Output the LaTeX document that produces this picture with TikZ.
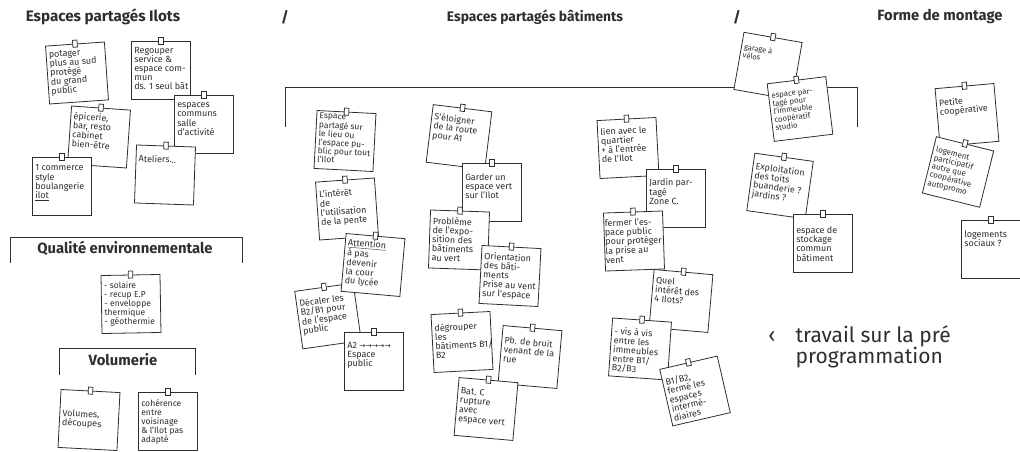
\documentclass[tikz,border=0pt]{standalone}
\usepackage{fontspec}
\setmainfont{Fira Sans}
\newfontfamily\symfont{DejaVu Sans}
\definecolor{ink}{HTML}{2E2E2E}
\tikzset{
  sticky/.style={draw=ink, fill=white, line width=0.8pt, minimum width=59pt, minimum height=58pt, inner sep=0pt},
  stickytext/.style={inner xsep=3pt, inner ysep=6pt, align=left, font=\fontsize{9}{9.2}\selectfont, text=ink, anchor=north west},
  tack/.style={draw=ink, fill=white, line width=0.75pt, minimum width=4.5pt, minimum height=7pt, inner sep=0pt},
  heading/.style={font=\fontsize{14.8}{16}\selectfont\bfseries, text=ink},
  section/.style={font=\fontsize{14.8}{16}\selectfont\bfseries, text=ink},
  bracket/.style={draw=ink, line width=0.8pt},
}
\newcommand\stickynote[6]{%
  \node[sticky, rotate=#4] (#1) at (#2,#3) {};
  \node[stickytext, rotate=#4, #5] (#1t) at (#1.north west) {#6};
  \node[tack, rotate=#4] (#1p) at (#1.north) {};
}
\begin{document}
\begin{tikzpicture}[x=1pt,y=-1pt]
\useasboundingbox (0,0) rectangle (1020,452);
% headings
\node[heading, font=\fontsize{15.2}{17}\selectfont\bfseries] (t1) at (103,17) {Espaces partagés Ilots};
\node[heading] (s1) at (285,17) {/};
\node[heading, font=\fontsize{13.8}{16}\selectfont\bfseries] (t2) at (535,17) {Espaces partagés bâtiments};
\node[heading] (s2) at (737,17) {/};
\node[heading] (t3) at (940,17) {Forme de montage};
\node[section] (t4) at (125,248) {Qualité environnementale};
\node[section] (t5) at (123,360) {Volumerie};
% brackets
\draw[bracket] (285,127) |- (857,87) -- (857,127);
\draw[bracket] (10,263) |- (242,237) -- (242,263);
\draw[bracket] (59,375) |- (195,348) -- (195,375);
% Espaces partages ilots
\stickynote{n1}{77}{73}{4}{}{potager\\plus au sud\\protégé\\du grand\\public}
\node[sticky] (n2) at (161,70) {};
\begin{scope}
\clip (n2.north west) rectangle (n2.south east);
\node[stickytext] (n2t) at (n2.north west) {Regouper\\service \&\\espace com-\\mun\\ds. 1 seul bât};
\end{scope}
\node[tack] (n2p) at (n2.north) {};
\stickynote{n3}{99}{137}{-4}{}{épicerie,\\bar, resto\\cabinet\\bien-être}
\stickynote{n4}{204}{124}{0}{inner ysep=8pt}{espaces\\communs\\salle\\d'activité}
\stickynote{n5}{165}{175}{-2}{inner ysep=10pt}{Ateliers...}
\stickynote{n6}{62}{186}{0}{inner ysep=8pt}{1 commerce\\style\\boulangerie\\\underline{ilot}}
% Qualite
\stickynote{n7}{131}{304}{1}{inner ysep=7pt, font=\fontsize{8.6}{9}\selectfont}{- solaire\\- recup E.P\\- enveloppe\\thermique\\- géothermie}
% Volumerie
\stickynote{n8}{89}{420}{-3}{inner ysep=20pt}{Volumes,\\découpes}
\stickynote{n9}{168}{421}{0}{inner ysep=8pt, font=\fontsize{8.6}{9}\selectfont}{cohérence\\entre\\voisinage\\\& l'Ilot pas\\adapté}
% batiments col 1
\stickynote{n10}{345}{141}{-3}{inner ysep=2pt, font=\fontsize{8.5}{8.6}\selectfont}{Espace\\partagé sur\\le lieu ou\\l'espace pu-\\blic pour tout\\l'Ilot}
\stickynote{n11}{347}{209}{4}{inner ysep=9pt}{L'intérêt\\de\\l'utilisation\\de la pente}
\stickynote{n13}{328}{316}{8}{inner ysep=9pt}{Décaler les\\B2/B1 pour\\de l'espace\\public}
\stickynote{n12}{373}{265}{-5}{inner ysep=5pt}{\underline{Attention}\\à pas\\devenir\\la cour\\du lycée}
\stickynote{n14}{374}{361}{0}{inner ysep=10pt}{A2 {\symfont\fontsize{7.5}{8}\selectfont →→→→→}\\Espace\\public}
% col 2
\stickynote{n15}{459}{137}{-7}{inner ysep=8pt}{S'éloigner\\de la route\\pour A1}
\stickynote{n16}{492}{192}{0}{inner ysep=11pt}{Garder un\\espace vert\\sur l'Ilot}
\stickynote{n17}{459}{240}{-2}{inner ysep=7pt}{Problème\\de l'expo-\\sition des\\bâtiments\\au vert}
\stickynote{n18}{510}{276}{-3}{inner ysep=7pt}{Orientation\\des bâti-\\ments\\Prise au vent\\sur l'espace}
\stickynote{n19}{462}{342}{3}{inner ysep=10pt}{dégrouper\\les\\bâtiments B1/\\B2}
\stickynote{n20}{530}{357}{-5}{inner ysep=11pt}{Pb. de bruit\\venant de la\\rue}
\stickynote{n21}{486}{409}{-5}{inner ysep=10pt}{Bat. C\\rupture\\avec\\espace vert}
% col 3
\stickynote{n22}{628}{148}{3}{inner ysep=8pt}{lien avec le\\quartier\\+ à l'entrée\\de l'Ilot}
\stickynote{n23}{676}{198}{0}{inner ysep=10pt}{Jardin par-\\tagé\\Zone C.}
\stickynote{n24}{634}{241}{2}{inner ysep=7pt, inner xsep=1pt}{fermer l'es-\\pace public\\pour protéger\\la prise au\\vent}
\stickynote{n25}{681}{301}{-5}{inner ysep=7pt}{Quel\\intérêt des\\4 Ilots?}
\stickynote{n26}{640}{349}{-4}{inner ysep=9pt}{- vis à vis\\entre les\\immeubles\\entre B1/\\B2/B3}
\stickynote{n27}{695}{391}{13}{inner ysep=10pt}{B1/B2,\\fermé les\\espaces\\intermé-\\diaires}
% col 4
\stickynote{n28}{768}{66}{-10}{inner ysep=11pt, font=\fontsize{7.5}{8.2}\selectfont}{garage à\\vélos}
\stickynote{n29}{800}{109}{7}{inner ysep=11pt, font=\fontsize{7.8}{8.1}\selectfont}{espace par-\\tagé pour\\l'immeuble\\coopératif\\studio}
\stickynote{n30}{780}{186}{-8}{inner ysep=9pt}{Exploitation\\des toits\\buanderie ?\\jardins ?}
\stickynote{n31}{823}{243}{0}{inner ysep=13pt}{espace de\\stockage\\commun\\bâtiment}
% forme de montage
\stickynote{n32}{967}{115}{5}{inner ysep=11pt}{Petite\\coopérative}
\stickynote{n33}{958}{172}{-14}{inner ysep=9pt, font=\fontsize{8}{8.6}\selectfont}{logement\\participatif\\autre que\\coopérative\\autopromo}
\stickynote{n34}{991}{249}{0}{inner ysep=11pt}{logements\\sociaux ?}
% travail
\node[font=\fontsize{21}{21}\selectfont, text=ink] (tra) at (772,337) {‹};
\node[font=\fontsize{21}{21}\selectfont, text=ink, align=left, anchor=west] (trb) at (792,347) {travail sur la pré\\programmation};
\end{tikzpicture}
\end{document}
